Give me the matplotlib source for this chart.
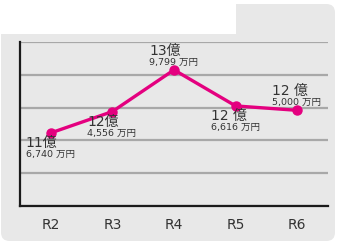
import matplotlib.pyplot as plt
from matplotlib.patches import FancyBboxPatch, Rectangle

# data (億円)
years = ["R2", "R3", "R4", "R5", "R6"]
values = [11.6740, 12.4556, 13.9799, 12.6616, 12.5000]
main_labels = ["11億", "12億", "13億", "12 億", "12 億"]
sub_labels = ["6,740 万円", "4,556 万円", "9,799 万円", "6,616 万円", "5,000 万円"]
# label above (+1) or below (-1) the point
label_side = [-1, -1, 1, -1, 1]

W, H = 343, 247
fig = plt.figure(figsize=(W / 100, H / 100), dpi=100)
fig.patch.set_facecolor("white")

# grey rounded panel + white box top-left
panel = FancyBboxPatch((1 / W, 1 - 241 / H), 334 / W, 237 / H,
                       boxstyle="round,pad=0,rounding_size=0.025",
                       mutation_aspect=W / H,
                       transform=fig.transFigure, facecolor="#e8e8e8",
                       edgecolor="none", zorder=-5)
fig.patches.append(panel)
fig.patches.append(Rectangle((0, 1 - 34 / H), 236 / W, 34 / H,
                             transform=fig.transFigure, facecolor="white",
                             edgecolor="none", zorder=-4))

ax = fig.add_axes([20 / W, 1 - 206 / H, 308 / W, 164 / H])
ax.set_facecolor("none")

x = list(range(len(years)))
ax.plot(x, values, color="#e4007f", lw=2.4, marker="o", ms=6.5, zorder=3,
        clip_on=False)

ax.set_xlim(-0.5, 4.5)
ax.set_ylim(9, 15)
ax.set_yticks([9 + 1.2 * i for i in range(6)])
ax.yaxis.grid(True, color="#a8a8a8", lw=1.6)
ax.set_axisbelow(True)
ax.tick_params(axis="y", left=False, labelleft=False)
ax.tick_params(axis="x", bottom=False, pad=5, labelsize=10, colors="#333333")
ax.set_xticks(x)
ax.set_xticklabels(years)
for s in ["top", "right"]:
    ax.spines[s].set_visible(False)
for s in ["left", "bottom"]:
    ax.spines[s].set_color("#1a1a1a")
    ax.spines[s].set_linewidth(1.6)

fam = ["DejaVu Sans", "Noto Sans CJK JP"]
for i, v in enumerate(values):
    if label_side[i] > 0:
        d1, d2 = 26, 12
    else:
        d1, d2 = -3, -17
    ax.annotate(main_labels[i], (i, v), xytext=(-25, d1),
                textcoords="offset pixels", ha="left", va="top",
                fontsize=10, color="#333333", family=fam, zorder=4)
    ax.annotate(sub_labels[i], (i, v), xytext=(-25, d2),
                textcoords="offset pixels", ha="left", va="top",
                fontsize=6.8, color="#333333", family=fam, zorder=4)

fig.savefig("out.png", dpi=100)
